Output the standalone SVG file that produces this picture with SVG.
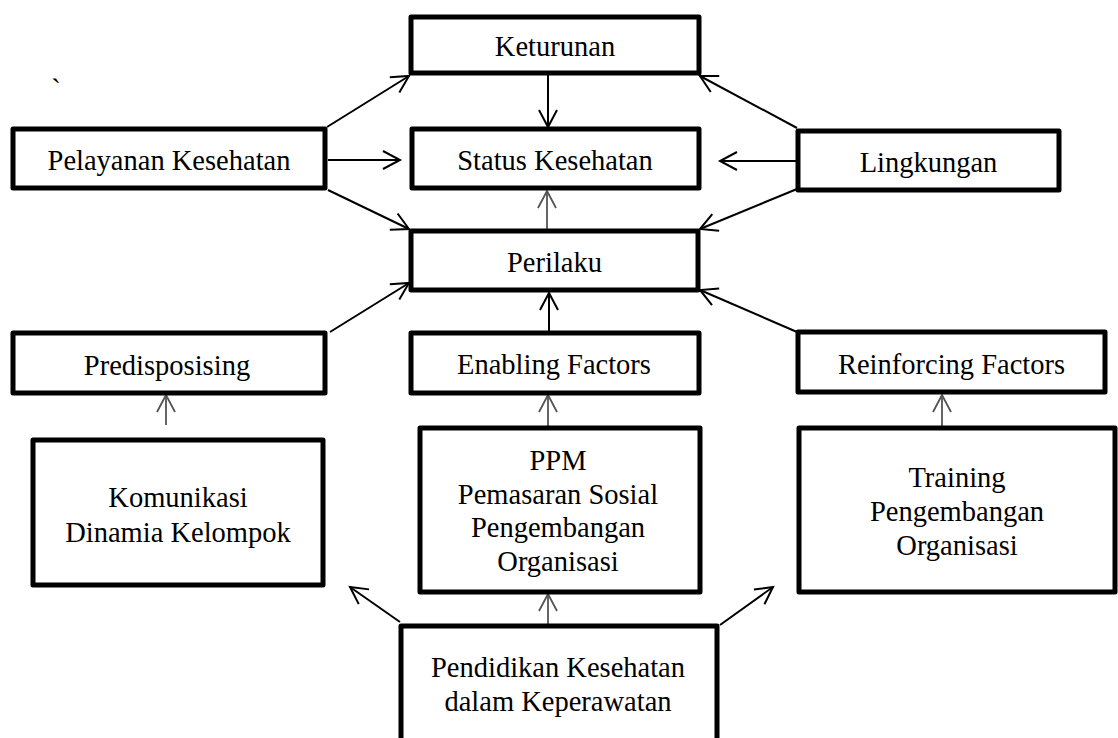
<svg xmlns="http://www.w3.org/2000/svg" width="1118" height="738" viewBox="0 0 1118 738">
<style>
.box{fill:#fff;stroke:#000;stroke-width:5;stroke-linejoin:round}
.t{font-family:"Liberation Serif","Times New Roman",serif;font-size:28.5px;fill:#000;text-anchor:middle}
.c{stroke:#000;stroke-width:2;fill:none;marker-end:url(#ah)}
.g{stroke:#555;stroke-width:1.8;fill:none;marker-end:url(#ahg)}
</style>
<defs>
<marker id="ah" markerUnits="userSpaceOnUse" markerWidth="40" markerHeight="40" refX="0" refY="0" viewBox="-20 -20 40 40" orient="auto" overflow="visible">
<path d="M-17,-9 L0,0 L-17,9" fill="none" stroke="#000" stroke-width="2"/>
</marker>
<marker id="ahg" markerUnits="userSpaceOnUse" markerWidth="40" markerHeight="40" refX="0" refY="0" viewBox="-20 -20 40 40" orient="auto" overflow="visible">
<path d="M-17,-9 L0,0 L-17,9" fill="none" stroke="#555" stroke-width="1.8"/>
</marker>
</defs>
<rect width="1118" height="738" fill="#fff"/>
<text class="t" x="56" y="99">`</text>
<g id="connectors">
<line class="c" x1="327" y1="127" x2="409" y2="76"/>
<line class="c" x1="328" y1="160" x2="400" y2="160"/>
<line class="c" x1="328" y1="190" x2="409" y2="229"/>
<line class="c" x1="548" y1="75" x2="548" y2="127"/>
<line class="c" x1="797" y1="128" x2="700" y2="76"/>
<line class="c" x1="798" y1="161" x2="720" y2="161"/>
<line class="c" x1="797" y1="189" x2="700" y2="229"/>
<line class="g" x1="547" y1="231" x2="547" y2="191"/>
<line class="c" x1="330" y1="332" x2="409" y2="283"/>
<line class="c" x1="549" y1="333" x2="549" y2="293"/>
<line class="c" x1="797" y1="332" x2="700" y2="290"/>
<line class="g" x1="166" y1="425" x2="166" y2="395"/>
<line class="g" x1="548" y1="427" x2="548" y2="395"/>
<line class="g" x1="942" y1="427" x2="942" y2="395"/>
<line class="c" x1="400" y1="622" x2="350" y2="587"/>
<line class="g" x1="548" y1="626" x2="548" y2="594"/>
<line class="c" x1="720" y1="625" x2="773" y2="587"/>
</g>
<g id="keturunan"><rect class="box" x="411" y="17" width="288" height="56"/><text class="t" x="555" y="56">Keturunan</text></g>
<g id="pelayanan"><rect class="box" x="13" y="129" width="312" height="59"/><text class="t" x="169" y="170">Pelayanan Kesehatan</text></g>
<g id="status"><rect class="box" x="412" y="129" width="287" height="59"/><text class="t" x="555" y="170">Status Kesehatan</text></g>
<g id="lingkungan"><rect class="box" x="798" y="131" width="261" height="59"/><text class="t" x="928.5" y="172">Lingkungan</text></g>
<g id="perilaku"><rect class="box" x="411" y="231" width="287" height="59"/><text class="t" x="554.5" y="272">Perilaku</text></g>
<g id="predisposising"><rect class="box" x="13" y="333" width="312" height="60"/><text class="t" x="167" y="375">Predisposising</text></g>
<g id="enabling"><rect class="box" x="411" y="333" width="288" height="60"/><text class="t" x="554" y="374">Enabling Factors</text></g>
<g id="reinforcing"><rect class="box" x="798" y="332" width="307" height="60"/><text class="t" x="951.5" y="374">Reinforcing Factors</text></g>
<g id="komunikasi"><rect class="box" x="33" y="440" width="290" height="145"/><text class="t" x="178" y="507">Komunikasi</text><text class="t" x="178" y="542">Dinamia Kelompok</text></g>
<g id="ppm"><rect class="box" x="420" y="428" width="280" height="164"/><text class="t" x="558" y="470">PPM</text><text class="t" x="558" y="504">Pemasaran Sosial</text><text class="t" x="558" y="537">Pengembangan</text><text class="t" x="558" y="571">Organisasi</text></g>
<g id="training"><rect class="box" x="799" y="428" width="316" height="164"/><text class="t" x="957" y="487">Training</text><text class="t" x="957" y="521">Pengembangan</text><text class="t" x="957" y="555">Organisasi</text></g>
<g id="pendidikan"><rect class="box" x="401" y="626" width="316" height="150"/><text class="t" x="558" y="677">Pendidikan Kesehatan</text><text class="t" x="558" y="711">dalam Keperawatan</text></g>
</svg>
